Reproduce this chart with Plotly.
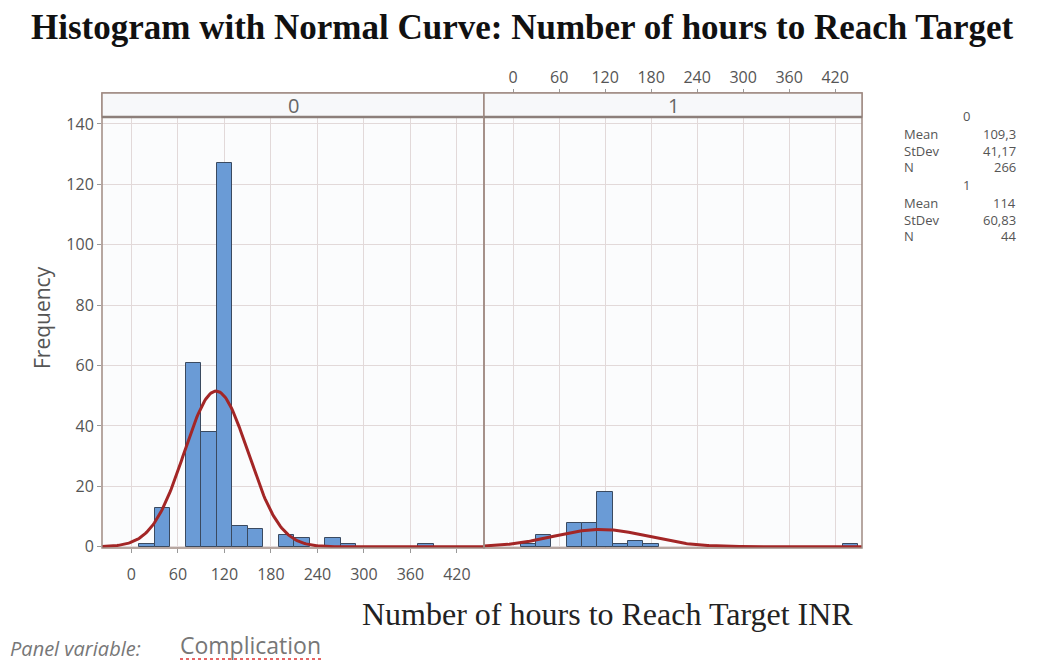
import numpy as np
import plotly.graph_objects as go
from plotly.subplots import make_subplots

# histogram bins (midpoints, width 20)
bins_0 = [20, 40, 80, 100, 120, 140, 160, 200, 220, 260, 280, 380]
counts_0 = [1, 13, 61, 38, 127, 7, 6, 4, 3, 3, 1, 1]
bins_1 = [20, 40, 80, 100, 120, 140, 160, 180, 440]
counts_1 = [1, 4, 8, 8, 18, 1, 2, 1, 1]
bin_width = 20

# summary stats shown in the legend
mean_0, sd_0, n_0 = 109.3, 41.17, 266
mean_1, sd_1, n_1 = 114, 60.83, 44

x_ticks = [0, 60, 120, 180, 240, 300, 360, 420]
y_ticks = [0, 20, 40, 60, 80, 100, 120, 140]

# page has an 8px body margin, so the figure is a bit smaller than the window
OFF = 8
W, H = 1030, 658
left_x0, mid_x, right_x1 = 102, 484, 862
plot_top, plot_bot = 117, 548
strip_top = 93

bar_fill = "#6a9bd6"
bar_line = "#3a4a60"
curve_col = "#a32626"
frame_col = "#a08a82"
grid_col = "#e2d9d9"
tick_font = dict(family="Open Sans", size=16, color="#555555")


def normal_curve(mean, sd, n):
    xs = np.linspace(-40, 456, 300)
    ys = n * bin_width * np.exp(-0.5 * ((xs - mean) / sd) ** 2) / (sd * np.sqrt(2 * np.pi))
    return xs, ys


fig = make_subplots(rows=1, cols=2, shared_yaxes=True, horizontal_spacing=0)

for col, (b, c, m, s, n) in enumerate(
    [(bins_0, counts_0, mean_0, sd_0, n_0), (bins_1, counts_1, mean_1, sd_1, n_1)], start=1
):
    fig.add_trace(
        go.Bar(
            x=b, y=c, width=bin_width,
            marker=dict(color=bar_fill, line=dict(color=bar_line, width=1)),
            showlegend=False,
        ),
        row=1, col=col,
    )
    cx, cy = normal_curve(m, s, n)
    fig.add_trace(
        go.Scatter(x=cx, y=cy, mode="lines", line=dict(color=curve_col, width=3),
                   showlegend=False),
        row=1, col=col,
    )

px = lambda v: (v - OFF) / W
py = lambda v: 1 - (v - OFF) / H

xcommon = dict(
    range=[-38, 455], tickvals=x_ticks, showgrid=True, gridcolor=grid_col, gridwidth=1,
    zeroline=False, showline=False,
    ticks="outside", ticklen=4, tickcolor="#999999", tickfont=tick_font, automargin=False,
)
ydomain = [py(plot_bot), py(plot_top)]
fig.update_layout(
    width=W, height=H,
    margin=dict(l=0, r=0, t=0, b=0),
    paper_bgcolor="white",
    plot_bgcolor="#fbfcfd",
    bargap=0,
    xaxis=dict(domain=[px(left_x0), px(mid_x)], side="bottom", ticklabelstandoff=8, **xcommon),
    xaxis2=dict(domain=[px(mid_x), px(right_x1)], side="top", anchor="free",
                position=py(strip_top), **xcommon),
    yaxis=dict(
        domain=ydomain, range=[-0.4, 142.3], tickvals=y_ticks,
        showgrid=True, gridcolor=grid_col, zeroline=False, showline=False,
        ticks="outside", ticklen=4,
        tickcolor="#999999", tickfont=tick_font, automargin=False,
    ),
    yaxis2=dict(domain=ydomain, showgrid=True, gridcolor=grid_col, zeroline=False,
                showline=False, tickvals=y_ticks, automargin=False),
)

# panel frames and strips
for x0, x1, lab in [(left_x0, mid_x, "0"), (mid_x, right_x1, "1")]:
    fig.add_shape(type="rect", xref="paper", yref="paper",
                  x0=px(x0), x1=px(x1), y0=py(plot_bot), y1=py(strip_top),
                  line=dict(color=frame_col, width=1.5), layer="above")
    fig.add_shape(type="rect", xref="paper", yref="paper",
                  x0=px(x0), x1=px(x1), y0=py(plot_top), y1=py(strip_top),
                  fillcolor="#f7f8fa", line=dict(color=frame_col, width=1.5))
    fig.add_shape(type="line", xref="paper", yref="paper",
                  x0=px(x0), x1=px(x1), y0=py(plot_top), y1=py(plot_top),
                  line=dict(color="#8c7f7a", width=2.5))
    fig.add_annotation(x=px((x0 + x1) / 2), y=py((strip_top + plot_top) / 2), xref="paper", yref="paper",
                       text=lab, showarrow=False, xanchor="center", yanchor="middle",
                       font=dict(family="Open Sans", size=20, color="#666666"))

# titles
fig.add_annotation(x=px(522), y=py(28), xref="paper", yref="paper",
                   xanchor="center", yanchor="middle",
                   text="<b>Histogram with Normal Curve: Number of hours to Reach Target</b>",
                   showarrow=False, font=dict(family="Liberation Serif", size=35, color="#111111"))
fig.add_annotation(x=px(607), y=py(614), xref="paper", yref="paper",
                   xanchor="center", yanchor="middle",
                   text="Number of hours to Reach Target INR", showarrow=False,
                   font=dict(family="Liberation Serif", size=32, color="#222222"))
fig.add_annotation(x=px(42), y=py(318), xref="paper", yref="paper", text="Frequency",
                   textangle=-90, showarrow=False, xanchor="center", yanchor="middle",
                   font=dict(family="Open Sans", size=21, color="#555555"))

# legend of summary stats
stat_font = dict(family="Open Sans", size=13, color="#555555")
rows = [
    ("0", None, 116), ("Mean", "109,3", 134), ("StDev", "41,17", 151), ("N", str(n_0), 167),
    ("1", None, 185), ("Mean", "114", 203), ("StDev", "60,83", 220), ("N", str(n_1), 236),
]
for lab, val, yy in rows:
    if val is None:
        fig.add_annotation(x=px(966), y=py(yy), xref="paper", yref="paper", text=lab,
                           xanchor="center", yanchor="middle", showarrow=False,
                           borderpad=0, font=stat_font)
    else:
        fig.add_annotation(x=px(903), y=py(yy), xref="paper", yref="paper", text=lab,
                           xanchor="left", yanchor="middle", showarrow=False,
                           borderpad=0, font=stat_font)
        fig.add_annotation(x=px(1017), y=py(yy), xref="paper", yref="paper", text=val,
                           xanchor="right", yanchor="middle", showarrow=False,
                           borderpad=0, font=stat_font)

# panel variable footnote
fig.add_annotation(x=px(8), y=py(648), xref="paper", yref="paper", text="<i>Panel variable:</i>",
                   xanchor="left", yanchor="middle", showarrow=False,
                   font=dict(family="Open Sans", size=20, color="#777777"))
fig.add_annotation(x=px(178), y=py(645), xref="paper", yref="paper", text="Complication",
                   xanchor="left", yanchor="middle", showarrow=False,
                   font=dict(family="Open Sans", size=23, color="#777777"))
fig.add_shape(type="line", xref="paper", yref="paper", x0=px(180), x1=px(322), y0=py(659), y1=py(659),
              line=dict(color="#dd3333", width=1.5, dash="dot"))

fig.write_html("out.html")
